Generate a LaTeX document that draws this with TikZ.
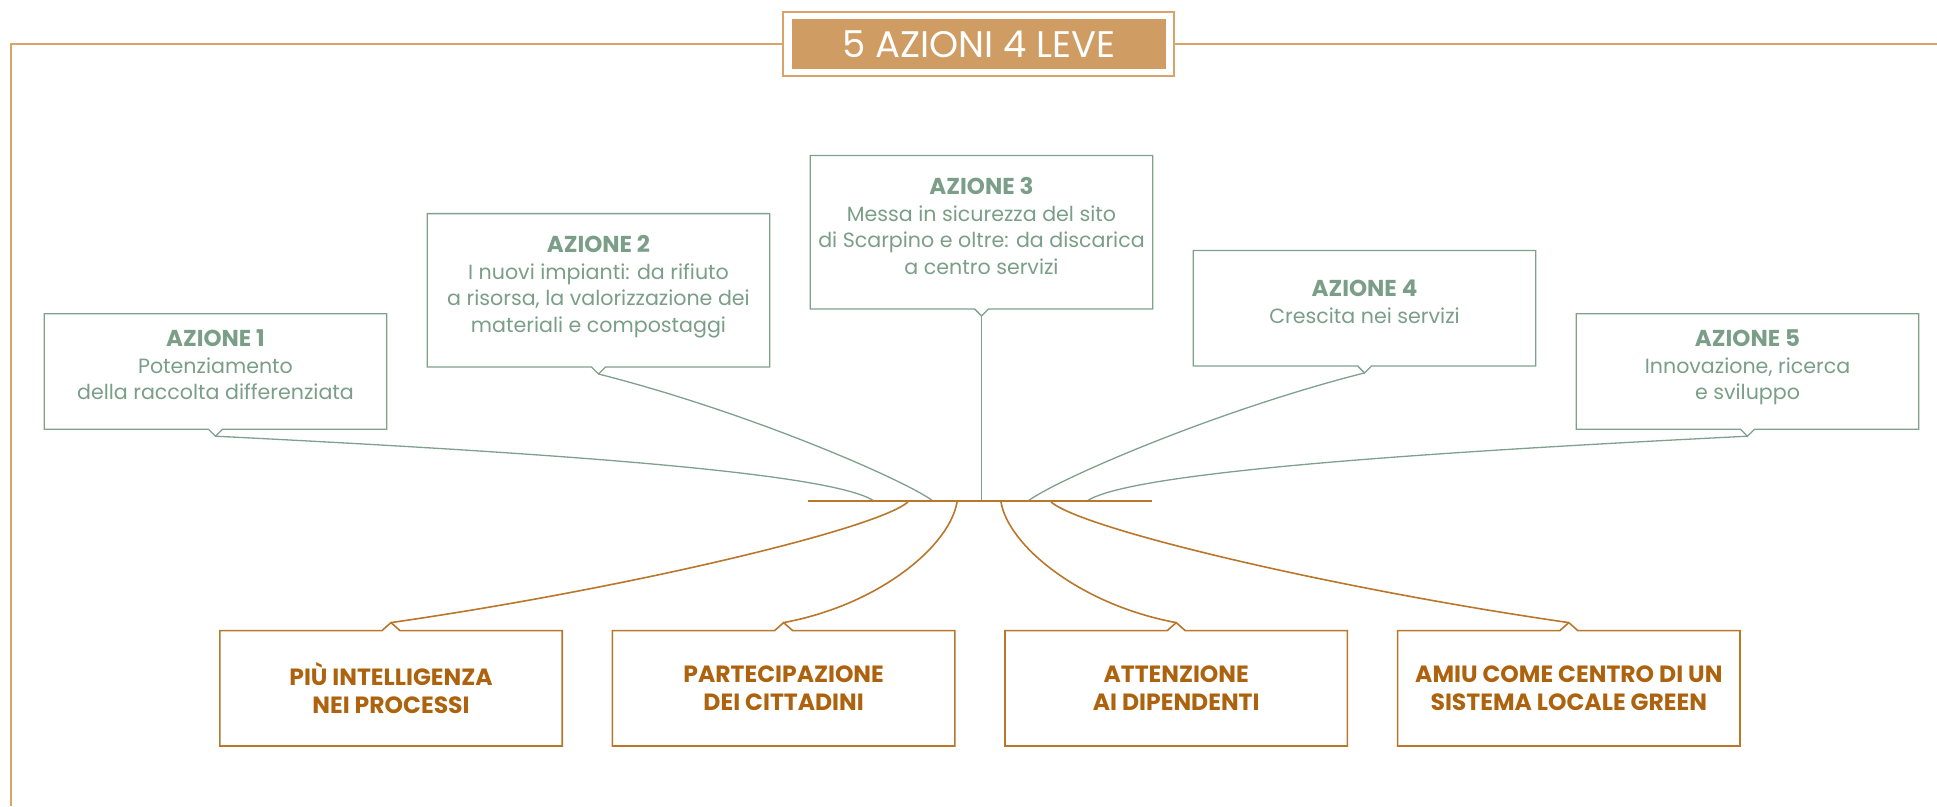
\documentclass[tikz,border=0pt]{standalone}
\usepackage{fontspec}
\setmainfont{Poppins}
\definecolor{verde}{HTML}{7FA08C}
\definecolor{verdetesto}{HTML}{7A9E87}
\definecolor{arancio}{HTML}{B9772B}
\definecolor{aranciotesto}{HTML}{AD620E}
\definecolor{cornice}{HTML}{D9A46A}
\definecolor{titolo}{HTML}{CF9D63}
\newcommand{\azn}[1]{{\fontsize{23}{26.5}\selectfont\bfseries AZIONE #1}}
\newcommand{\giu}{\rule[-13pt]{0pt}{0pt}}
\begin{document}
\begin{tikzpicture}[x=1pt,y=-1pt,
    azione/.style={minimum width=342pt,align=center,inner sep=0pt,
      text=verdetesto,font=\fontsize{20.6}{26.5}\selectfont},
    leva/.style={minimum width=342pt,minimum height=115pt,align=center,inner sep=0pt,
      text=aranciotesto,font=\fontsize{23.5}{27.5}\selectfont\bfseries},
    lineav/.style={draw=verde,line width=1.3pt},
    lineaa/.style={draw=arancio,line width=1.6pt}]
  \useasboundingbox (0,0) rectangle (1937,806);
  % cornice e titolo
  \draw[cornice,line width=1.3pt] (783,44) -- (11,44) -- (11,806);
  \draw[cornice,line width=1.3pt] (1174,44) -- (1937,44);
  \draw[cornice,line width=1.2pt] (783,12) rectangle (1174,76);
  \node[fill=titolo,minimum width=374pt,minimum height=50pt,inner sep=0pt,
    text=white,font=\fontsize{37}{37}\selectfont] (titolo) at (979,44) {5 AZIONI 4 LEVE};
  % azioni
  \node[azione,minimum height=115pt] (a1) at (215.5,371.5)
    {\azn{1}\\Potenziamento\\della raccolta differenziata\giu};
  \node[azione,minimum height=153pt] (a2) at (598.5,290.3)
    {\azn{2}\\I nuovi impianti: da rifiuto\\a risorsa, la valorizzazione dei\\materiali e compostaggi\giu};
  \node[azione,minimum height=153pt] (a3) at (981.5,232.2)
    {\azn{3}\\Messa in sicurezza del sito\\di Scarpino e oltre: da discarica\\a centro servizi\giu};
  \node[azione,minimum height=115pt] (a4) at (1364.5,308.2)
    {\azn{4}\\Crescita nei servizi\giu};
  \node[azione,minimum height=115pt] (a5) at (1747.5,371.5)
    {\azn{5}\\Innovazione, ricerca\\e sviluppo\giu};
  \foreach \i in {1,...,5}
    \draw[lineav] (a\i.south west) -- (a\i.north west) -- (a\i.north east)
      -- (a\i.south east) -- ([xshift=7pt]a\i.south)
      -- ([yshift=-7pt]a\i.south) coordinate (ta\i)
      -- ([xshift=-7pt]a\i.south) -- cycle;
  % leve
  \node[leva] (l1) at (391,688.3) {PIÙ INTELLIGENZA\\NEI PROCESSI};
  \node[leva] (l2) at (783.6,688.3) {PARTECIPAZIONE\\DEI CITTADINI};
  \node[leva] (l3) at (1176.2,688.3) {ATTENZIONE\\AI DIPENDENTI};
  \node[leva] (l4) at (1568.8,688.3) {AMIU COME CENTRO DI UN\\SISTEMA LOCALE GREEN};
  \foreach \i in {1,...,4}
    \draw[lineaa] (l\i.north west) -- ([xshift=-9pt]l\i.north)
      -- ([yshift=8pt]l\i.north) coordinate (tl\i)
      -- ([xshift=9pt]l\i.north) -- (l\i.north east)
      -- (l\i.south east) -- (l\i.south west) -- cycle;
  % punti sulla barra
  \coordinate (hs) at (808,501);
  \coordinate (he) at (1152,501);
  \coordinate (e1) at (874,501);
  \coordinate (e2) at (933,501);
  \coordinate (e3) at (981.5,501);
  \coordinate (e4) at (1028,501);
  \coordinate (e5) at (1087,501);
  \coordinate (s1) at (908,502);
  \coordinate (s2) at (957,502);
  \coordinate (s3) at (1001,502);
  \coordinate (s4) at (1051,502);
  % collegamenti
  \draw[lineav] (ta1) .. controls +(300,15) and +(-44,-30) .. (e1);
  \draw[lineav] (ta2) .. controls +(150,38) and +(-28,-21) .. (e2);
  \draw[lineav] (ta3) -- (e3);
  \draw[lineav] (ta4) .. controls +(-150,38) and +(28,-21) .. (e4);
  \draw[lineav] (ta5) .. controls +(-300,15) and +(44,-30) .. (e5);
  \draw[lineaa] (s1) .. controls +(-33,28) and +(229,-33) .. (tl1);
  \draw[lineaa] (s2) .. controls +(-7,43) and +(97,-18) .. (tl2);
  \draw[lineaa] (s3) .. controls +(7,43) and +(-97,-18) .. (tl3);
  \draw[lineaa] (s4) .. controls +(33,28) and +(-229,-33) .. (tl4);
  \draw[arancio,line width=2.2pt] (hs) -- (he);
\end{tikzpicture}
\end{document}
